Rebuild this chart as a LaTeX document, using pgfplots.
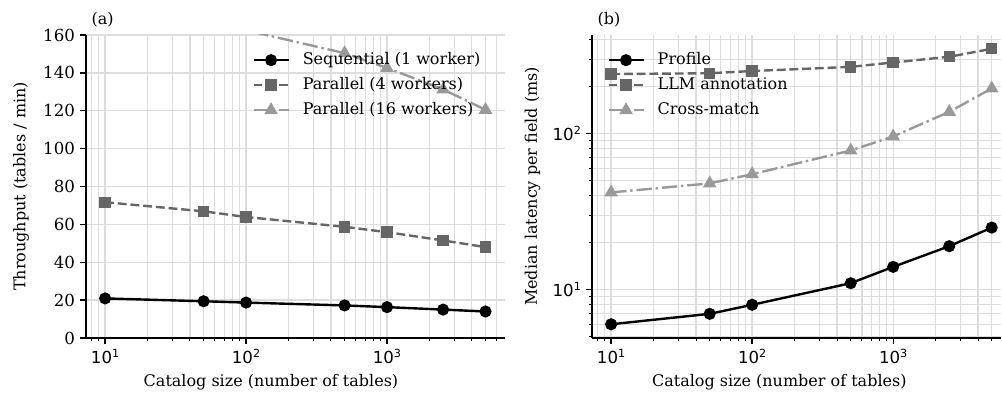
\documentclass[border=0pt]{standalone}
\usepackage{fontspec}
\setmainfont{DejaVu Serif}
\newfontfamily\dvsans{DejaVu Sans}
\usepackage{pgfplots}
\pgfplotsset{compat=1.18}
\newcommand\fs{\fontsize{16bp}{19bp}\selectfont}
\newcommand\tfs{\fontsize{16.6bp}{19bp}\selectfont}
\newcommand\tenp[1]{{\dvsans 10\raisebox{6.5bp}{\fontsize{11.2bp}{12bp}\selectfont #1}}}
\definecolor{gridc}{RGB}{221,221,221}
\definecolor{c4}{RGB}{102,102,102}
\definecolor{c16}{RGB}{153,153,153}
\pgfplotsset{
  mystyle/.style={
    scale only axis,
    axis lines*=left,
    axis line style={line width=1.28bp, black},
    tick align=outside,
    major tick length=5.6bp,
    minor tick length=3.2bp,
    tick style={black, line width=1.28bp},
    minor tick style={black, line width=0.96bp},
    xmajorgrids, xminorgrids,
    grid style={line width=1.28bp, color=gridc},
    minor grid style={line width=1.28bp, color=gridc},
    every tick label/.append style={font=\tfs},
    every axis label/.append style={font=\fs},
    /pgf/number format/assume math mode=true,
    xtick={10,100,1000},
    xticklabels={\tenp{1},\tenp{2},\tenp{3}},
    xmin=7.32,
    legend style={draw=none, fill=none, font=\fs, inner sep=0pt,
      nodes={inner sep=0pt, text height=12bp, text depth=4bp},
      row sep=9bp,
      /tikz/every odd column/.append style={column sep=13bp}},
    legend cell align=left,
    legend image code/.code={\draw[mark repeat=2, mark phase=2] plot coordinates {(0bp,0bp) (17.5bp,0bp) (35bp,0bp)};},
    clip marker paths=true,
    xlabel={Catalog size (number of tables)},
  },
  seq/.style={black, line width=2.4bp, solid, mark=*, mark size=4.8bp, mark options={solid, fill=black}},
  par4/.style={c4, line width=2.4bp, dash pattern=on 8.9bp off 3.84bp, mark=square*, mark size=4.5bp, mark options={solid, fill=c4}},
  par16/.style={c16, line width=2.4bp, dash pattern=on 15.4bp off 3.84bp on 2.4bp off 3.84bp, mark=triangle*, mark size=5.5bp, mark options={solid, fill=c16}},
}
\begin{document}
\fs
\begin{tikzpicture}[font=\fs]
\begin{axis}[xmode=log, mystyle,
  at={(86bp,56bp)}, anchor=south west, width=418.5bp, height=303bp,
  xmax=6820, ymin=0, ymax=160,
  ytick={0,20,40,60,80,100,120,140,160},
  ymajorgrids,
  minor xtick={8,9,20,30,40,50,60,70,80,90,200,300,400,500,600,700,800,900,2000,3000,4000,5000,6000},
  xlabel style={at={(axis description cs:0.442,-0.161)}, anchor=base, font=\fs},
  ylabel={Throughput (tables / min)},
  ylabel style={at={(axis description cs:-0.155,0.5)}, anchor=center, font=\fs},
  legend style={at={(axis description cs:0.397,0.944)}, anchor=north west},
]
\addplot[seq] coordinates {(10,20.9) (50,19.4) (100,18.7) (500,17.2) (1000,16.3) (2500,15.0) (5000,14.0)};
\addlegendentry{Sequential (1 worker)}
\addplot[par4] coordinates {(10,71.7) (50,66.9) (100,63.9) (500,58.7) (1000,55.9) (2500,51.5) (5000,48.0)};
\addlegendentry{Parallel (4 workers)}
\addplot[par16] coordinates {(10,182) (50,169) (100,162.5) (500,150.4) (1000,142.6) (2500,131.3) (5000,120.5)};
\addlegendentry{Parallel (16 workers)}
\end{axis}
\begin{axis}[xmode=log, ymode=log, mystyle,
  at={(592bp,56bp)}, anchor=south west, width=409bp, height=303bp,
  xmax=5820, ymin=4.9, ymax=429,
  ytick={10,100}, yticklabels={\tenp{1},\tenp{2}},
  minor ytick={5,6,7,8,9,20,30,40,50,60,70,80,90,200,300,400},
  ymajorgrids, yminorgrids,
  minor xtick={8,9,20,30,40,50,60,70,80,90,200,300,400,500,600,700,800,900,2000,3000,4000,5000},
  xlabel style={at={(axis description cs:0.458,-0.161)}, anchor=base, font=\fs},
  ylabel={Median latency per field (ms)},
  ylabel style={at={(axis description cs:-0.1455,0.5)}, anchor=center, font=\fs},
  legend style={at={(axis description cs:0.037,0.944)}, anchor=north west},
]
\addplot[seq] coordinates {(10,6) (50,7) (100,8) (500,11) (1000,14) (2500,19) (5000,25)};
\addlegendentry{Profile}
\addplot[par4] coordinates {(10,241) (50,244) (100,252) (500,268) (1000,286) (2500,311) (5000,350)};
\addlegendentry{LLM annotation}
\addplot[par16] coordinates {(10,42) (50,48) (100,55) (500,78) (1000,96) (2500,138) (5000,195)};
\addlegendentry{Cross-match}
\end{axis}
\node[anchor=base west, font=\fs] at (86bp,369bp) {(a)};
\node[anchor=base west, font=\fs] at (592bp,369bp) {(b)};
\pgfresetboundingbox
\useasboundingbox (0,0) rectangle (1002bp,394bp);
\end{tikzpicture}
\end{document}
